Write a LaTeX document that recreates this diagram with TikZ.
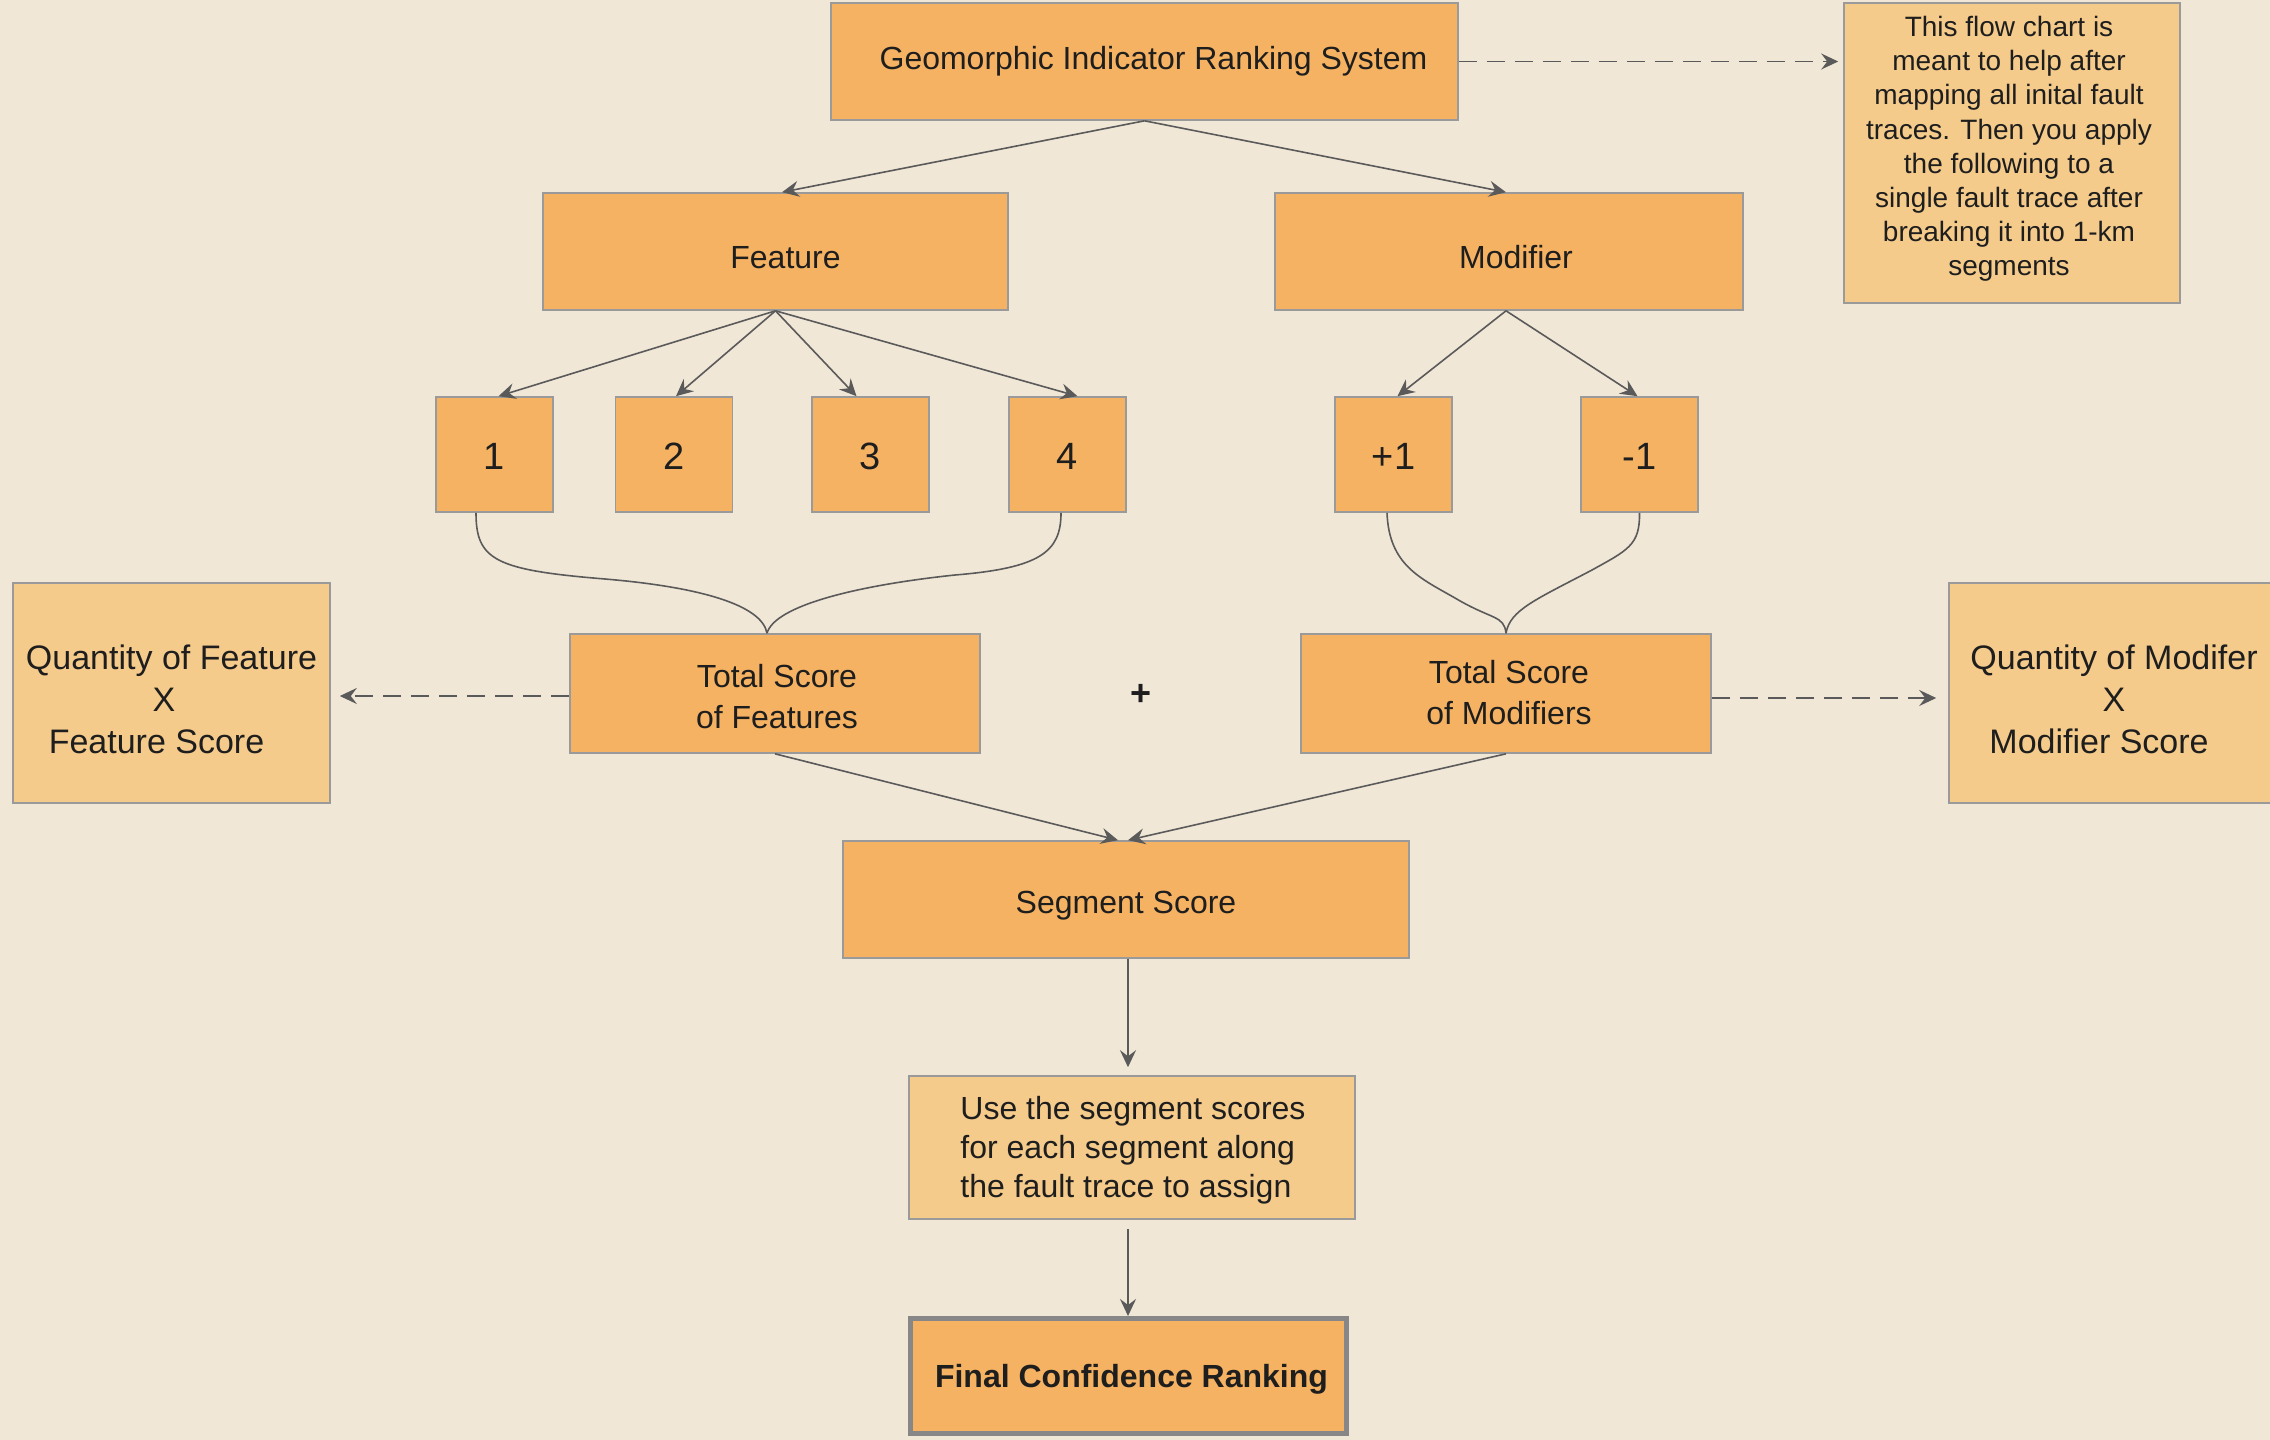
\documentclass[tikz,border=0pt]{standalone}
\usepackage{fontspec}
\setmainfont{Liberation Sans}
\usetikzlibrary{arrows.meta}
\definecolor{bg}{HTML}{F1E7D7}
\definecolor{org}{HTML}{F5B262}
\definecolor{lorg}{HTML}{F5CB8B}
\definecolor{bord}{HTML}{9A9A9A}
\definecolor{lin}{HTML}{5A5A5A}
\definecolor{txt}{HTML}{1E1E1E}
\newcommand{\lowered}[2]{\raisebox{-#1}[\height][\depth]{#2}}
\begin{document}
\begin{tikzpicture}[x=0.5pt,y=-0.5pt,
  box/.style={draw=bord, line width=0.8pt, fill=org, inner sep=0pt, text=txt,
    font=\fontsize{16}{20.5}\selectfont, align=center},
  lbox/.style={box, fill=lorg},
  plaintext/.style={text=txt, inner sep=0pt, align=center},
  numbox/.style={box, minimum width=58.5pt, minimum height=57.5pt,
    font=\fontsize{19}{22}\selectfont},
  conn/.style={draw=lin, line width=0.8pt},
  arr/.style={conn, -{Stealth[length=8.5pt,width=8pt,inset=3pt]}},
  dasharr/.style={arr, dash pattern=on 9pt off 5pt}]
\clip (0,0) rectangle (2270,1440);
\fill[bg] (0,0) rectangle (2270,1440);

% nodes
\node[box, minimum width=313.5pt, minimum height=58.5pt] (top) at (1144.5,61.5)
  {\hspace{9pt}Geomorphic Indicator Ranking System};
\node[lbox, minimum width=168pt, minimum height=150pt] (note) at (2012,153) {};
\node[plaintext, font=\fontsize{14}{17.1}\selectfont] (notetext) at (2009,149)
  {This flow chart is\\meant to help after\\mapping all inital fault\\traces. Then you apply\\the following to a\\single fault trace after\\breaking it into 1-km\\segments};

\node[box, minimum width=232.5pt, minimum height=58.5pt] (feat) at (775.5,251.5) {\hspace{10pt}\lowered{3pt}{Feature}};
\node[box, minimum width=234pt, minimum height=58.5pt] (mod) at (1509,251.5) {\hspace{7pt}\lowered{3pt}{Modifier}};

\node[numbox] (n1) at (494.5,454.5) {\lowered{1pt}{1}};
\node[numbox] (n2) at (674,454.5) {\lowered{1pt}{2}};
\node[numbox] (n3) at (870.5,454.5) {\lowered{1pt}{3}};
\node[numbox] (n4) at (1067.5,454.5) {\lowered{1pt}{4}};
\node[numbox] (p1) at (1393.5,454.5) {\lowered{1pt}{+1}};
\node[numbox] (m1) at (1639.5,454.5) {\lowered{1pt}{-1}};

\node[box, minimum width=205pt, minimum height=59.5pt] (tf) at (775,693.5) {};
\node[plaintext, font=\fontsize{16}{20.5}\selectfont] (tftext) at (777,697) {Total Score\\of Features};
\node[box, minimum width=205pt, minimum height=59.5pt] (tm) at (1506,693.5) {};
\node[plaintext, font=\fontsize{16}{20.5}\selectfont] (tmtext) at (1509,693) {Total Score\\of Modifiers};
\node[plaintext, font=\bfseries\fontsize{18}{20}\selectfont] (plus) at (1141,695) {+};

\node[lbox, minimum width=158.5pt, minimum height=110pt] (qf) at (171.5,693) {};
\node[plaintext, font=\fontsize{17}{21}\selectfont] (qftext) at (171.5,699)
  {Quantity of Feature\\X\kern7.5pt\\Feature Score\kern15pt};
\node[lbox, minimum width=165pt, minimum height=110pt] (qm) at (2114,693) {};
\node[plaintext, font=\fontsize{17}{21}\selectfont] (qmtext) at (2114,699)
  {Quantity of Modifer\\X\\Modifier Score\kern15pt};

\node[box, minimum width=283pt, minimum height=58.5pt] (seg) at (1126,899.5) {\lowered{3pt}{Segment Score}};
\node[lbox, minimum width=223pt, minimum height=71.5pt] (use) at (1132,1147.5) {};
\node[plaintext, align=left, font=\fontsize{16}{19.5}\selectfont] (usetext) at (1133,1150.5)
  {Use the segment scores\\for each segment along\\the fault trace to assign};
\node[box, draw=black!47, line width=2.5pt, minimum width=218pt, minimum height=57.5pt, font=\bfseries\fontsize{16}{20}\selectfont] (fin) at (1128.5,1376)
  {\hspace{3pt}\lowered{1.5pt}{Final Confidence Ranking}};

% connectors
\draw[dasharr] (top.east) -- ([xshift=-2.5pt]top.east -| note.west);
\draw[arr] (top.south) -- ([xshift=3.25pt]feat.north);
\draw[arr] (top.south) -- ([xshift=-1.5pt]mod.north);

\draw[arr] (feat.south) -- ([xshift=2pt]n1.north);
\draw[arr] (feat.south) -- ([xshift=1pt]n2.north);
\draw[arr] (feat.south) -- ([xshift=-7pt]n3.north);
\draw[arr] (feat.south) -- ([xshift=5pt]n4.north);
\draw[arr] ([xshift=-1.5pt]mod.south) -- ([xshift=2pt]p1.north);
\draw[arr] ([xshift=-1.5pt]mod.south) -- ([xshift=-1pt]m1.north);

\coordinate (tfin) at ([xshift=-4pt]tf.north);
\coordinate (tmin) at (tm.north);
\draw[conn] ([xshift=-9.25pt]n1.south) .. controls (476,560) and (495,570) .. (605,579)
  .. controls (700,587) and (762,605) .. (tfin);
\draw[conn] ([xshift=-3.25pt]n4.south) .. controls (1061,552) and (1040,568) .. (955,575)
  .. controls (860,585) and (775,605) .. (tfin);
\draw[conn] ([xshift=-3.25pt]p1.south) .. controls (1389,565) and (1420,578) .. (1455,598)
  .. controls (1492,620) and (1504,615) .. (tmin);
\draw[conn] (m1.south) .. controls (1640,545) and (1628,550) .. (1592,570)
  .. controls (1535,600) and (1510,610) .. (tmin);

\draw[dasharr] ([yshift=-1.25pt]tf.west) -- ([xshift=4.5pt,yshift=-1.5pt]qf.east);
\draw[dasharr] ([yshift=-2.25pt]tm.east) -- ([xshift=-6pt,yshift=-2.5pt]qm.west);

\draw[arr] (tf.south) -- ([xshift=-4pt]seg.north);
\draw[arr] (tm.south) -- ([xshift=1pt]seg.north);
\draw[arr] ([xshift=1pt]seg.south) -- ([xshift=-2pt,yshift=4pt]use.north);
\draw[arr] ([xshift=-2pt,yshift=-4.5pt]use.south) -- ([xshift=-0.25pt]fin.north);
\end{tikzpicture}
\end{document}
